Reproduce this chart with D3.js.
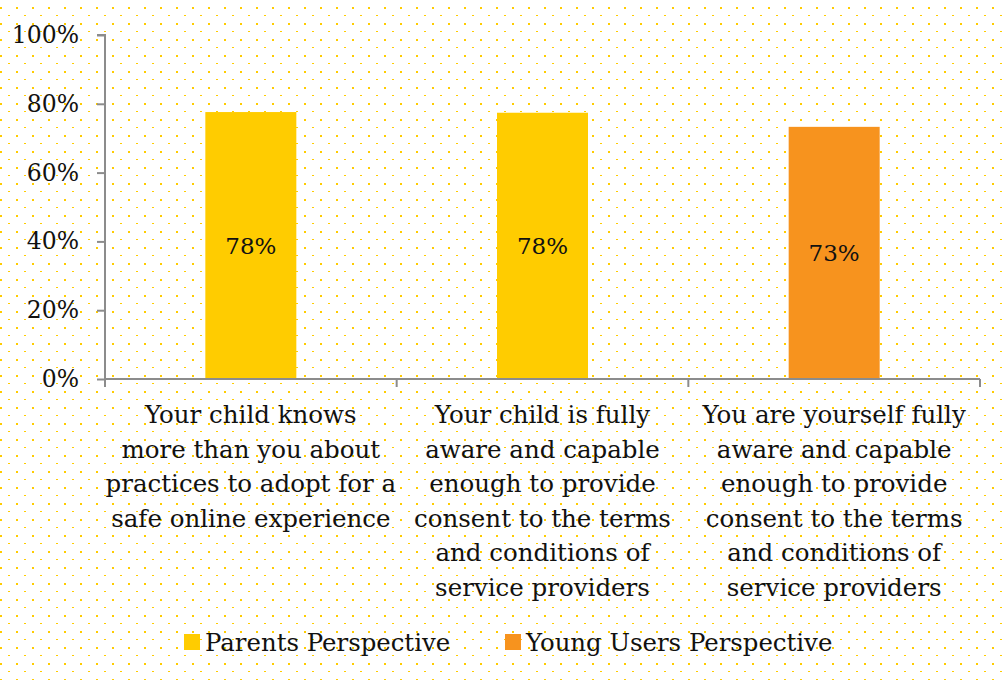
<!DOCTYPE html>
<html>
<head>
<meta charset="utf-8">
<script src="https://cdn.jsdelivr.net/npm/d3@7"></script>
<style>
  html, body { margin: 0; padding: 0; background: #fff; }
  svg { display: block; }
  text { font-family: "DejaVu Serif", serif; fill: #111; }
</style>
</head>
<body>
<svg id="chart" width="1002" height="680"></svg>
<script>
// ---- data ----
const categories = [
  "Your child knows more than you about practices to adopt for a safe online experience",
  "Your child is fully aware and capable enough to provide consent to the terms and conditions of service providers",
  "You are yourself fully aware and capable enough to provide consent to the terms and conditions of service providers"
];
const categoryLines = [
  ["Your child knows", "more than you about", "practices to adopt for a", "safe online experience"],
  ["Your child is fully", "aware and capable", "enough to provide", "consent to the terms", "and conditions of", "service providers"],
  ["You are yourself fully", "aware and capable", "enough to provide", "consent to the terms", "and conditions of", "service providers"]
];
const values = [77.6, 77.4, 73.3];
const valueLabels = ["78%", "78%", "73%"];
const seriesOf = ["Parents Perspective", "Parents Perspective", "Young Users Perspective"];
const seriesNames = ["Parents Perspective", "Young Users Perspective"];
const seriesColors = ["#FFCC00", "#F7931E"];
const yTicks = [0, 20, 40, 60, 80, 100];

(function () {
// ---- layout ----
const svg = d3.select("#chart");
const W = 1002, H = 680;
const mLeft = 105, mRight = 980, mTop = 35, mBottom = 379;

// dotted background
const defs = svg.append("defs");
const pat = defs.append("pattern").attr("id", "dots")
  .attr("patternUnits", "userSpaceOnUse").attr("width", 16).attr("height", 16);
pat.append("rect").attr("x", 0).attr("y", 7).attr("width", 2).attr("height", 2).attr("fill", "#FFCC00");
pat.append("rect").attr("x", 8).attr("y", 15).attr("width", 2).attr("height", 2).attr("fill", "#FFCC00");
svg.append("rect").attr("width", W).attr("height", H).attr("fill", "#fff");
svg.append("rect").attr("width", W).attr("height", H).attr("fill", "url(#dots)");

const x = d3.scaleBand().domain(categories).range([mLeft, mRight]).padding(0);
const y = d3.scaleLinear().domain([0, 100]).range([mBottom, mTop]);
const color = d3.scaleOrdinal().domain(seriesNames).range(seriesColors);
const barW = x.bandwidth() * 0.312;

// bars
const bars = svg.append("g");
bars.selectAll("rect").data(categories).join("rect")
  .attr("x", (d) => x(d) + x.bandwidth() / 2 - barW / 2)
  .attr("y", (d, i) => y(values[i]))
  .attr("width", barW)
  .attr("height", (d, i) => y(0) - y(values[i]))
  .attr("fill", (d, i) => color(seriesOf[i]));

bars.selectAll("text").data(categories).join("text")
  .attr("x", (d) => x(d) + x.bandwidth() / 2)
  .attr("y", (d, i) => (y(values[i]) + y(0)) / 2)
  .attr("dy", "0.35em")
  .attr("text-anchor", "middle")
  .style("font-size", "23px")
  .text((d, i) => valueLabels[i]);

// y axis
const yAxis = svg.append("g").attr("transform", `translate(${mLeft},0)`)
  .call(d3.axisLeft(y).tickValues(yTicks).tickFormat(d => d + "%").tickSize(8).tickPadding(18));
yAxis.selectAll("path, line").attr("stroke", "#8c8c8c").attr("stroke-width", 2);
yAxis.select(".domain").attr("d", `M-8,${mTop}H0V${mBottom}`);
yAxis.selectAll("text").style("font-size", "23.5px").attr("fill", "#111").style("font-family", '"DejaVu Serif", serif');

// x axis
const xAxisG = svg.append("g").attr("transform", `translate(0,${mBottom})`);
xAxisG.append("line").attr("x1", mLeft).attr("x2", mRight).attr("y1", 0).attr("y2", 0)
  .attr("stroke", "#8c8c8c").attr("stroke-width", 2);
const xTickPos = categories.map(c => x(c)).concat([mRight]);
xAxisG.selectAll("line.tk").data(xTickPos).join("line").attr("class", "tk")
  .attr("x1", d => d).attr("x2", d => d).attr("y1", 0).attr("y2", 8)
  .attr("stroke", "#8c8c8c").attr("stroke-width", 2);

// category labels
const labels = svg.append("g");
categories.forEach((c, i) => {
  const t = labels.append("text")
    .attr("text-anchor", "middle")
    .style("font-size", "24.5px");
  categoryLines[i].forEach((ln, j) => {
    t.append("tspan").attr("x", x(c) + x.bandwidth() / 2).attr("y", 423 + j * 34.5).text(ln);
  });
});

// legend
const legendX = [184, 505];
const lg = svg.append("g");
seriesNames.forEach((s, i) => {
  lg.append("rect").attr("x", legendX[i]).attr("y", 634).attr("width", 16).attr("height", 16).attr("fill", color(s));
  lg.append("text").attr("x", legendX[i] + 21).attr("y", 651).style("font-size", "24.4px").text(s);
});
})();
</script>
</body>
</html>
